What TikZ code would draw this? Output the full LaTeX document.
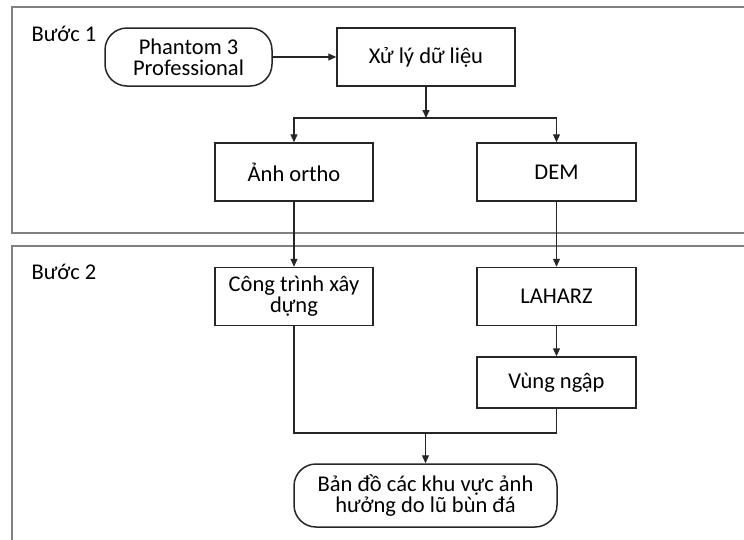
\documentclass[tikz,border=0pt]{standalone}
\usepackage{fontspec}
\setmainfont{Carlito}
\usetikzlibrary{positioning}
\usetikzlibrary{arrows.meta}
\tikzset{
    frame/.style = {draw=black!50, line width=1.6pt},
    stepbox/.style = {rectangle, draw=black!85, line width=1.5pt, minimum height=58pt, align=center, font=\fontsize{22.5}{25}\selectfont},
    terminal/.style = {stepbox, rounded corners=22pt},
    steplabel/.style = {anchor=west, font=\fontsize{22.5}{25}\selectfont},
    edgen/.style = {-{Triangle[length=8pt,width=7pt]}, line width=1.1pt, draw=black!85},
    linkn/.style = {line width=1.1pt, draw=black!85}
}
\begin{document}
\begin{tikzpicture}[x=1pt,y=-1pt]
\useasboundingbox (0,0) rectangle (744,539);
% khung
\draw[frame] (760,7) -- (12,7) -- (12,233) -- (760,233);
\draw[frame] (760,246) -- (12,246) -- (12,545);
\node[steplabel] (b1) at (28,34) {Bước 1};
\node[steplabel] (b2) at (28,272) {Bước 2};
%
\node[terminal, minimum width=167pt] (drone) at (188.5,57) {Phantom 3\\[-4pt]Professional};
\node[stepbox, minimum width=178pt] (xuly) at (426,57) {Xử lý dữ liệu};
\node[stepbox, minimum width=158pt] (ortho) at (294,172) {Ảnh ortho};
\node[stepbox, minimum width=159pt] (dem) at (556.5,172) {DEM};
\node[stepbox, minimum width=158pt] (ctxd) at (294,296.5) {Công trình xây\\[-4pt]dựng};
\node[stepbox, minimum width=159pt] (laharz) at (556.5,296.5) {LAHARZ};
\node[stepbox, minimum width=159pt, minimum height=51pt] (vung) at (556.5,382.5) {Vùng ngập};
\node[terminal, minimum width=263pt, minimum height=63pt] (bando) at (425.5,495.5) {Bản đồ các khu vực ảnh\\[-4pt]hưởng do lũ bùn đá};
%
\coordinate (split) at (426,118);
\coordinate (join) at (425.5,433);
%
\draw[edgen] (drone) -- (xuly);
\draw[edgen] (xuly) -- (split);
\draw[edgen] (split) -| (ortho);
\draw[edgen] (split) -| (dem);
\draw[edgen] (ortho) -- (ctxd);
\draw[edgen] (dem) -- (laharz);
\draw[edgen] (laharz) -- (vung);
\draw[linkn] (ctxd) |- (join);
\draw[linkn] (vung) |- (join);
\draw[edgen] (join) -- (bando);
\end{tikzpicture}
\end{document}
